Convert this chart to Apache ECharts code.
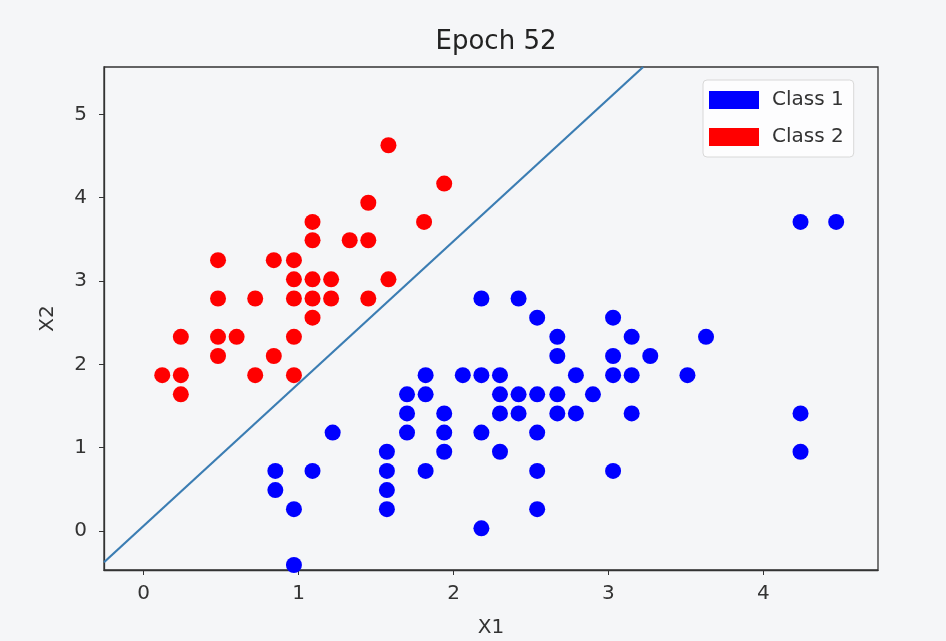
<!DOCTYPE html>
<html>
<head>
<meta charset="utf-8">
<title>Epoch 52</title>
<script src="https://cdn.jsdelivr.net/npm/echarts@6/dist/echarts.min.js"></script>
<style>
    html, body { margin: 0; padding: 0; background: #f5f6f8; }
    #main { width: 946px; height: 641px; }
</style>
</head>
<body>
<div id="main"></div>
<script>
// Class 1 points (blue)
var class1 = [
    [2.18, 2.79], [2.42, 2.79], [2.54, 2.56], [3.03, 2.56],
    [2.67, 2.33], [3.15, 2.33], [3.63, 2.33],
    [2.67, 2.10], [3.03, 2.10], [3.27, 2.10],
    [1.82, 1.87], [2.06, 1.87], [2.18, 1.87], [2.30, 1.87], [2.79, 1.87], [3.03, 1.87], [3.15, 1.87], [3.51, 1.87],
    [1.70, 1.64], [1.82, 1.64], [2.30, 1.64], [2.42, 1.64], [2.54, 1.64], [2.67, 1.64], [2.90, 1.64],
    [1.70, 1.41], [1.94, 1.41], [2.30, 1.41], [2.42, 1.41], [2.67, 1.41], [2.79, 1.41], [3.15, 1.41], [4.24, 1.41],
    [1.22, 1.18], [1.70, 1.18], [1.94, 1.18], [2.18, 1.18], [2.54, 1.18],
    [1.57, 0.95], [1.94, 0.95], [2.30, 0.95], [4.24, 0.95],
    [0.85, 0.72], [1.09, 0.72], [1.57, 0.72], [1.82, 0.72], [2.54, 0.72], [3.03, 0.72],
    [0.85, 0.49], [1.57, 0.49],
    [0.97, 0.26], [1.57, 0.26], [2.54, 0.26],
    [2.18, 0.03], [0.97, -0.41],
    [4.24, 3.71], [4.47, 3.71]
];

// Class 2 points (red)
var class2 = [
    [1.58, 4.63], [1.94, 4.17], [1.45, 3.94],
    [1.09, 3.71], [1.81, 3.71],
    [1.09, 3.49], [1.33, 3.49], [1.45, 3.49],
    [0.48, 3.25], [0.84, 3.25], [0.97, 3.25],
    [0.97, 3.02], [1.09, 3.02], [1.21, 3.02], [1.58, 3.02],
    [0.48, 2.79], [0.72, 2.79], [0.97, 2.79], [1.09, 2.79], [1.21, 2.79], [1.45, 2.79],
    [1.09, 2.56],
    [0.24, 2.33], [0.48, 2.33], [0.60, 2.33], [0.97, 2.33],
    [0.48, 2.10], [0.84, 2.10],
    [0.12, 1.87], [0.24, 1.87], [0.72, 1.87], [0.97, 1.87],
    [0.24, 1.64]
];

// decision boundary end points
var boundary = [[-0.256, -0.377], [3.224, 5.57]];

var xTicks = [0, 1, 2, 3, 4];
var yTicks = [0, 1, 2, 3, 4, 5];

var fontFamily = 'DejaVu Sans';

var myChart = echarts.init(document.getElementById('main'));

var option = {
    backgroundColor: '#f5f6f8',
    animation: false,
    title: {
        text: 'Epoch 52',
        left: 491,
        top: 24,
        textAlign: 'center',
        textStyle: { fontFamily: fontFamily, fontSize: 26, fontWeight: 'normal', color: '#222' }
    },
    legend: {
        data: ['Class 1', 'Class 2'],
        orient: 'vertical',
        left: 703,
        top: 80,
        padding: [10, 10, 10, 6],
        itemGap: 17,
        itemWidth: 50,
        itemHeight: 18,
        icon: 'rect',
        backgroundColor: 'rgba(255,255,255,0.8)',
        borderColor: '#d8d8d8',
        borderWidth: 1,
        borderRadius: 4,
        textStyle: { fontFamily: fontFamily, fontSize: 20, color: '#333', padding: [0, 0, 0, 8] }
    },
    grid: {
        left: 104,
        right: 68,
        top: 67,
        bottom: 71,
        outerBoundsMode: 'none',
        show: true,
        borderColor: '#333',
        borderWidth: 1.3,
        backgroundColor: 'transparent'
    },
    xAxis: {
        type: 'value',
        min: -0.256,
        max: 4.74,
        name: 'X1',
        nameLocation: 'middle',
        nameGap: 48,
        nameTextStyle: { fontFamily: fontFamily, fontSize: 20, color: '#333' },
        axisLine: { show: true, onZero: false, lineStyle: { color: '#333', width: 1.3 } },
        axisTick: { show: true, length: 5, lineStyle: { color: '#333' }, customValues: xTicks },
        axisLabel: { fontFamily: fontFamily, fontSize: 20, color: '#333', margin: 14, customValues: xTicks },
        splitLine: { show: false }
    },
    yAxis: {
        type: 'value',
        min: -0.47,
        max: 5.57,
        name: 'X2',
        nameLocation: 'middle',
        nameGap: 46,
        nameTextStyle: { fontFamily: fontFamily, fontSize: 20, color: '#333' },
        axisLine: { show: true, onZero: false, lineStyle: { color: '#333', width: 1.3 } },
        axisTick: { show: true, length: 5, lineStyle: { color: '#333' }, customValues: yTicks },
        axisLabel: { fontFamily: fontFamily, fontSize: 20, color: '#333', margin: 17, customValues: yTicks },
        splitLine: { show: false }
    },
    series: [
        {
            name: 'Class 1',
            type: 'scatter',
            data: class1,
            symbolSize: 16,
            itemStyle: { color: '#0000ff', opacity: 1 }
        },
        {
            name: 'Class 2',
            type: 'scatter',
            data: class2,
            symbolSize: 16,
            itemStyle: { color: '#ff0000', opacity: 1 }
        },
        {
            name: 'Boundary',
            type: 'line',
            data: boundary,
            showSymbol: false,
            symbol: 'none',
            clip: true,
            lineStyle: { color: '#3b7db3', width: 2.2 },
            z: 1
        }
    ]
};

myChart.setOption(option);
</script>
</body>
</html>
